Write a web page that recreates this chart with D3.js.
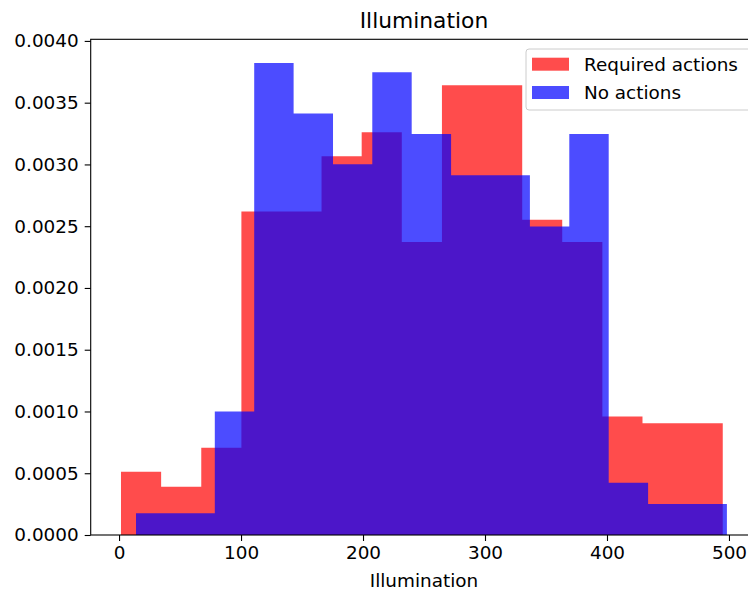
<!DOCTYPE html>
<html>
<head>
<meta charset="utf-8">
<script src="https://cdn.jsdelivr.net/npm/d3@7"></script>
<style>
  body { margin: 0; background: #fff; }
  svg { display: block; font-family: "DejaVu Sans", sans-serif; }
</style>
</head>
<body>
<svg id="hist-plot"></svg>
<script>
// bin edges (15 bins per series)
const redEdges = [1.6, 34.5, 67.4, 100.3, 133.1, 166.0, 198.9, 231.8, 264.7, 297.6, 330.5, 363.3, 396.2, 429.1, 462.0, 494.9];
const blueEdges = [13.9, 46.2, 78.5, 110.8, 143.1, 175.4, 207.6, 239.9, 272.2, 304.5, 336.8, 369.1, 401.4, 433.7, 466.0, 498.3];

// density heights
const redValues = [0.000513, 0.000391, 0.000707, 0.00262, 0.00262, 0.003066, 0.00326, 0.002372, 0.003641, 0.003641, 0.002553, 0.002372, 0.000959, 0.000905, 0.000905];
const blueValues = [0.000176, 0.000176, 0.000999, 0.003822, 0.003412, 0.003001, 0.003746, 0.003247, 0.002912, 0.002912, 0.002498, 0.003247, 0.000424, 0.000251, 0.000251];

const seriesNames = ['Required actions', 'No actions'];
const xTicks = [0, 100, 200, 300, 400, 500];
const yTicks = [0, 0.0005, 0.001, 0.0015, 0.002, 0.0025, 0.003, 0.0035, 0.004];

const config = {
    width: 748,
    height: 593,
    left: 90.7,
    right: 757.2,
    top: 39.3,
    bottom: 535,
    font: 18.4
};

let svg = d3.select('#hist-plot')
    .attr('width', config.width)
    .attr('height', config.height);

// scales (matplotlib adds 5% margins on x, 5% headroom on y)
const xMin = d3.min(redEdges.concat(blueEdges));
const xMax = d3.max(redEdges.concat(blueEdges));
const pad = (xMax - xMin) * 0.05;
let xScale = d3.scaleLinear()
    .domain([xMin - pad, xMax + pad])
    .range([config.left, config.right]);

const yMax = d3.max(redValues.concat(blueValues)) * 1.05;
let yScale = d3.scaleLinear()
    .domain([0, yMax])
    .range([config.bottom, config.top]);

// bars: one step shape per series so neighbouring bars show no seams
const stepPoints = (edges, values) => {
    let pts = values.map((v, i) => [edges[i], v]);
    pts.push([edges[edges.length - 1], values[values.length - 1]]);
    return pts;
};

const area = d3.area()
    .x(d => xScale(d[0]))
    .y0(yScale(0))
    .y1(d => yScale(d[1]))
    .curve(d3.curveStepAfter);

const drawBars = (edges, values, color) => {
    svg.append('path')
        .datum(stepPoints(edges, values))
        .attr('d', area)
        .style('fill', color)
        .style('fill-opacity', 0.7);
};

drawBars(redEdges, redValues, 'red');
drawBars(blueEdges, blueValues, 'blue');

// axes
let xAxis = svg.append('g')
    .attr('transform', `translate(0,${config.bottom})`)
    .call(d3.axisBottom(xScale).tickValues(xTicks).tickSize(6).tickPadding(5).tickFormat(d3.format('d')));

let yAxis = svg.append('g')
    .attr('transform', `translate(${config.left},0)`)
    .call(d3.axisLeft(yScale).tickValues(yTicks).tickSize(6).tickPadding(6).tickFormat(d3.format('.4f')));

[xAxis, yAxis].forEach(ax => {
    ax.select('.domain').remove();
    ax.selectAll('.tick line').style('stroke', '#000').style('stroke-width', 1.1);
    ax.selectAll('.tick text')
        .style('font-family', '"DejaVu Sans", sans-serif')
        .style('font-size', config.font + 'px')
        .style('fill', '#000');
});

// spines
svg.append('rect')
    .attr('x', config.left)
    .attr('y', config.top)
    .attr('width', config.right - config.left)
    .attr('height', config.bottom - config.top)
    .style('fill', 'none')
    .style('stroke', '#000')
    .style('stroke-width', 1.1);

// title and label
svg.append('text')
    .attr('x', (config.left + config.right) / 2)
    .attr('y', 28)
    .attr('text-anchor', 'middle')
    .style('font-size', '21.8px')
    .text('Illumination');

svg.append('text')
    .attr('x', (config.left + config.right) / 2)
    .attr('y', 587)
    .attr('text-anchor', 'middle')
    .style('font-size', config.font + 'px')
    .text('Illumination');

// legend
let legend = svg.append('g');
legend.append('rect')
    .attr('x', 526)
    .attr('y', 49)
    .attr('width', 228)
    .attr('height', 61)
    .attr('rx', 3)
    .style('fill', 'rgba(255,255,255,0.8)')
    .style('stroke', '#cccccc')
    .style('stroke-width', 1);

const legendColors = ['red', 'blue'];
seriesNames.forEach((name, i) => {
    legend.append('rect')
        .attr('x', 532)
        .attr('y', 57.7 + i * 28.3)
        .attr('width', 37)
        .attr('height', 13)
        .style('fill', legendColors[i])
        .style('fill-opacity', 0.7);
    legend.append('text')
        .attr('x', 584)
        .attr('y', 71 + i * 28.3)
        .style('font-size', config.font + 'px')
        .style('fill', '#000')
        .text(name);
});
</script>
</body>
</html>
